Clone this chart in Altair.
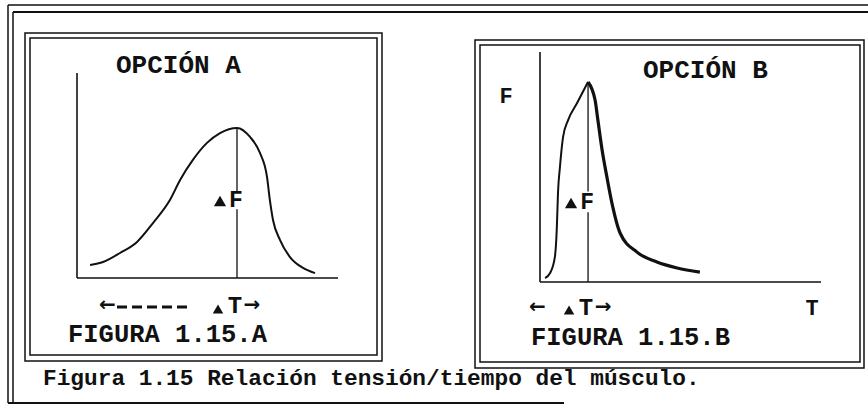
import altair as alt
import pandas as pd

# ---- data -----------------------------------------------------------------
# Option A: slow, bell-shaped tension/time curve (T and F in arbitrary units)
a_time = [0.50, 1.00, 1.65, 2.30, 2.91, 3.56, 3.95, 4.44, 4.98, 5.48,
          6.13, 6.63, 7.01, 7.28, 7.39, 7.51, 7.78, 8.16, 8.66, 9.12]
a_force = [0.63, 0.78, 1.22, 1.76, 2.68, 3.80, 4.78, 5.76, 6.59, 7.07,
           7.32, 6.88, 6.10, 4.93, 3.80, 2.83, 1.85, 1.02, 0.49, 0.24]

# Option B: fast rise to a sharp peak, then a longer decay
b_rise_time = [0.18, 0.36, 0.53, 0.60, 0.64, 0.71, 0.82, 1.00, 1.32, 1.71]
b_rise_force = [0.17, 0.39, 1.09, 2.39, 3.87, 5.00, 6.30, 7.04, 7.78, 8.70]
b_fall_time = [1.71, 1.96, 2.06, 2.21, 2.38, 2.56, 2.85, 3.45, 4.16, 4.88, 5.69]
b_fall_force = [8.70, 7.91, 7.04, 5.74, 4.57, 3.43, 2.13, 1.30, 0.87, 0.61, 0.43]

# Force level where the "▲F" label sits on each peak line
a_label_force = 3.80
b_label_force = 3.48

panel_titles = ["OPCIÓN A", "OPCIÓN B"]
figure_labels = ["FIGURA 1.15.A", "FIGURA 1.15.B"]
axis_letters = ["F", "T"]
caption = "Figura 1.15 Relación tensión/tiempo del músculo."

# ---- styling / layout ------------------------------------------------------
INK = "#111111"
FONT = "Liberation Mono"
ARROW_FONT = "DejaVu Sans"
W, H = 868, 416
AXIS_MAX = 10
LABEL_GAP = 0.45  # half-height of the gap left in the peak line for "▲F"

# plot-area placement of the two small panels (pixels)
PANEL_A = dict(x0=77, x1=338, y0=278, y1=73)
PANEL_B = dict(x0=540, x1=821, y0=282, y1=52)

ONE = alt.Data(values=[{}])


def scales(p):
    sx = alt.Scale(domain=[0, AXIS_MAX], range=[p["x0"], p["x1"]], nice=False)
    sy = alt.Scale(domain=[0, AXIS_MAX], range=[p["y0"], p["y1"]], nice=False)
    return sx, sy


def px_rule(x, y, x2=None, y2=None, w=1.5, dash=None):
    enc = dict(x=alt.value(x), y=alt.value(y))
    if x2 is not None:
        enc["x2"] = alt.value(x2)
    if y2 is not None:
        enc["y2"] = alt.value(y2)
    kw = dict(color=INK, strokeWidth=w)
    if dash:
        kw["strokeDash"] = dash
    return alt.Chart(ONE).mark_rule(**kw).encode(**enc)


def px_box(x, y, x2, y2, w=1.5):
    return alt.Chart(ONE).mark_rect(filled=False, stroke=INK, strokeWidth=w).encode(
        x=alt.value(x), y=alt.value(y), x2=alt.value(x2), y2=alt.value(y2))


def px_text(s, x, y, size, align="left", baseline="middle", font=FONT):
    return alt.Chart(ONE).mark_text(
        font=font, fontWeight="bold", fontSize=size, align=align,
        baseline=baseline, color=INK,
    ).encode(x=alt.value(x), y=alt.value(y), text=alt.value(s))


def panel(p, branches, label_force, row_y, tri_f_y, tri_t_y, arrow_x, dash_to):
    sx, sy = scales(p)
    layers = []

    # axes drawn in data space: vertical F axis and horizontal T axis
    ax = pd.DataFrame({"t": [0], "t2": [AXIS_MAX], "f": [0], "f2": [AXIS_MAX]})
    layers.append(alt.Chart(ax).mark_rule(color=INK, strokeWidth=1.6).encode(
        x=alt.X("t:Q", scale=sx, axis=None),
        y=alt.Y("f:Q", scale=sy, axis=None), y2="f2:Q"))
    layers.append(alt.Chart(ax).mark_rule(color=INK, strokeWidth=1.6).encode(
        x=alt.X("t:Q", scale=sx, axis=None), x2="t2:Q",
        y=alt.Y("f:Q", scale=sy, axis=None)))

    # curve(s)
    all_t, all_f = [], []
    for t, f, width, interp in branches:
        all_t += t
        all_f += f
        df = pd.DataFrame({"t": t, "f": f})
        layers.append(alt.Chart(df).mark_line(
            color=INK, strokeWidth=width, interpolate=interp).encode(
            x=alt.X("t:Q", scale=sx, axis=None),
            y=alt.Y("f:Q", scale=sy, axis=None),
            order="t:Q"))

    # peak of the curve and the line dropped from it to the T axis
    k = max(range(len(all_f)), key=lambda i: all_f[i])
    pk_t, pk_f = all_t[k], all_f[k]
    seg = pd.DataFrame({
        "t": [pk_t, pk_t],
        "f0": [0, label_force + LABEL_GAP],
        "f1": [label_force - LABEL_GAP, pk_f],
    })
    layers.append(alt.Chart(seg).mark_rule(color=INK, strokeWidth=1.3).encode(
        x=alt.X("t:Q", scale=sx, axis=None),
        y=alt.Y("f0:Q", scale=sy, axis=None), y2="f1:Q"))

    peak = pd.DataFrame({"t": [pk_t], "f": [label_force]})
    # "▲F" on the peak line
    layers.append(alt.Chart(peak).mark_text(
        font=FONT, fontWeight="bold", fontSize=23, baseline="middle",
        align="center", dx=-1, color=INK, text="F").encode(
        x=alt.X("t:Q", scale=sx, axis=None),
        y=alt.Y("f:Q", scale=sy, axis=None)))
    layers.append(alt.Chart(peak).mark_point(
        shape="triangle-up", filled=True, size=150, color=INK, opacity=1,
        strokeWidth=0, xOffset=-17).encode(
        x=alt.X("t:Q", scale=sx, axis=None), y=alt.value(tri_f_y)))

    # "▲T→" under the peak
    layers.append(alt.Chart(peak).mark_text(
        font=FONT, fontWeight="bold", fontSize=24, baseline="middle",
        align="center", dx=-2, color=INK, text="T").encode(
        x=alt.X("t:Q", scale=sx, axis=None), y=alt.value(row_y)))
    layers.append(alt.Chart(peak).mark_text(
        font=ARROW_FONT, fontWeight="bold", fontSize=20, baseline="middle",
        align="center", dx=15, color=INK, text="→").encode(
        x=alt.X("t:Q", scale=sx, axis=None), y=alt.value(row_y - 1)))
    layers.append(alt.Chart(peak).mark_point(
        shape="triangle-up", filled=True, size=110, color=INK, opacity=1,
        strokeWidth=0, xOffset=-19).encode(
        x=alt.X("t:Q", scale=sx, axis=None), y=alt.value(tri_t_y)))

    # "←-----" to the left of it
    layers.append(px_text("←", arrow_x - 1, row_y - 1, 20, font=ARROW_FONT))
    if dash_to:
        layers.append(px_rule(arrow_x + 17, row_y + 1, x2=dash_to, w=3,
                              dash=[10, 5]))
    return layers


layers = []

# outer frame (double lines on top and left, single line at the bottom)
layers += [
    px_rule(8, 5, x2=W),
    px_rule(13, 12, x2=W, w=2),
    px_rule(8, 5, y2=403),
    px_rule(13, 12, y2=403),
    px_rule(8, 403, x2=564, w=1.8),
]
# double frames around each panel
layers += [
    px_box(25, 33, 382, 361), px_box(30, 38, 377, 355),
    px_box(475, 40, 864, 368), px_box(480, 45, 860, 362),
]

layers += panel(
    PANEL_A, [(a_time, a_force, 2.0, "monotone")], a_label_force,
    row_y=306, tri_f_y=201, tri_t_y=309, arrow_x=100, dash_to=191)
layers += panel(
    PANEL_B, [(b_rise_time, b_rise_force, 2.0, "monotone"),
              (b_fall_time, b_fall_force, 3.2, "monotone")], b_label_force,
    row_y=308, tri_f_y=203, tri_t_y=310, arrow_x=530, dash_to=None)

# titles, axis letters and captions
layers += [
    px_text(panel_titles[0], 116, 65, 26),
    px_text(panel_titles[1], 643, 70, 26),
    px_text(axis_letters[0], 506, 96, 22, align="center"),
    px_text(axis_letters[1], 812, 308, 22, align="center"),
    px_text(figure_labels[0], 68, 334, 25.5),
    px_text(figure_labels[1], 531, 337, 25.5),
    px_text(caption, 43, 385, 22.8, baseline="alphabetic"),
]

chart = alt.layer(*layers).resolve_scale(
    x="independent", y="independent"
).properties(
    width=W, height=H, padding=0, background="white",
    autosize=alt.AutoSizeParams(type="none"),
).configure_view(stroke=None)

chart.save("out.html", embed_options={"renderer": "svg", "actions": False})
